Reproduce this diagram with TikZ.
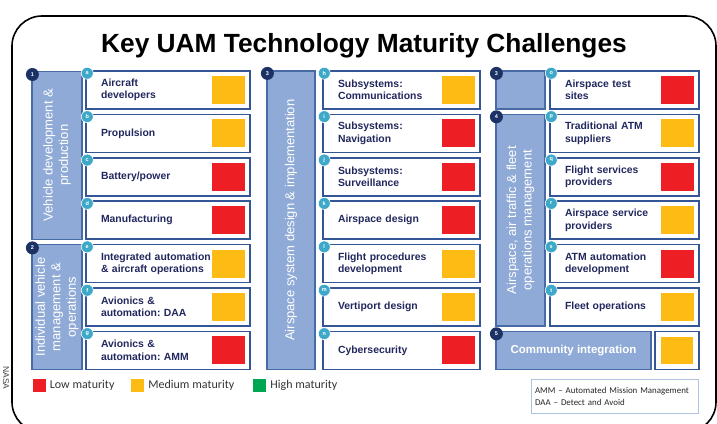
\documentclass[tikz,border=0pt]{standalone}
\usepackage{fontspec}
\setmainfont{Liberation Sans}
\newfontfamily\notefont{Carlito}
\usetikzlibrary{positioning}

\definecolor{navytext}{RGB}{34,40,94}
\definecolor{boxline}{RGB}{52,86,150}
\definecolor{barfill}{RGB}{143,170,214}
\definecolor{barline}{RGB}{72,106,165}
\definecolor{numblue}{RGB}{28,50,100}
\definecolor{letterteal}{RGB}{62,168,200}
\definecolor{lowred}{RGB}{237,30,36}
\definecolor{medamber}{RGB}{253,187,20}
\definecolor{highgreen}{RGB}{0,166,81}
\definecolor{notebox}{RGB}{175,195,225}

\begin{document}
\frenchspacing
\begin{tikzpicture}[
      x=1pt, y=-1pt,
      node distance=3.9pt,
      item/.style={rectangle,draw=boxline,line width=1.5pt,fill=white,minimum height=38pt,inner xsep=15pt,inner ysep=0pt,align=left,text=navytext,font=\fontsize{10.4}{12.5}\selectfont\bfseries},
      itemA/.style={item,text width=134pt},
      itemB/.style={item,text width=127pt},
      itemC/.style={item,text width=119pt},
      bar/.style={rectangle,draw=barline,line width=1.2pt,fill=barfill,inner sep=1pt,align=center,text=white,font=\fontsize{13}{15.5}\selectfont},
      level/.style={rectangle,minimum width=33pt,minimum height=28pt,inner sep=0pt},
      numtag/.style={circle,fill=numblue,minimum size=13pt,inner sep=0pt,text=white,font=\fontsize{5.5}{6}\selectfont\bfseries},
      lettertag/.style={circle,fill=letterteal,draw=white,line width=0.6pt,minimum size=12pt,inner sep=0pt,text=white,font=\fontsize{5.5}{6}\selectfont\bfseries},
      key/.style={rectangle,minimum size=13pt,inner sep=0pt},
      keytext/.style={inner sep=0pt,text=black!80,font=\notefont\fontsize{12}{14}\selectfont}
    ]
    \useasboundingbox (0,0) rectangle (717,423);
    \clip (0,0) rectangle (717,423);

    % Frame and title
    \draw[line width=1.6pt,rounded corners=30pt] (12,16) rectangle (716,432);
    \node[anchor=base,font=\fontsize{26.3}{30}\selectfont\bfseries] (title) at (364,52) {Key UAM Technology Maturity Challenges};
    \node[rotate=-90,text=black!75,font=\fontsize{8.5}{10}\selectfont] (credit) at (6,378) {NASA};

    % First column
    \node[itemA] (a) at (168,90) {Aircraft\\developers};
    \node[itemA,below=of a] (b) {Propulsion};
    \node[itemA,below=of b] (c) {Battery/power};
    \node[itemA,below=of c] (d) {Manufacturing};
    \node[itemA,below=of d] (e) {Integrated automation\\\& aircraft operations};
    \node[itemA,below=of e] (f) {Avionics \&\\automation: DAA};
    \node[itemA,below=of f] (g) {Avionics \&\\automation: AMM};

    \node[bar,rotate=90,minimum width=168pt,minimum height=50pt] (vehicle) at (57,155.1) {Vehicle development \&\\production};
    \node[bar,rotate=90,minimum width=125pt,minimum height=50pt] (vehicleops) at (57,307) {Individual vehicle\\management \&\\operations};

    % Second column
    \node[itemB] (h) at (401.5,90) {Subsystems:\\Communications};
    \node[itemB,below=of h] (i) {Subsystems:\\Navigation};
    \node[itemB,below=of i] (j) {Subsystems:\\Surveillance};
    \node[itemB,below=of j] (k) {Airspace design};
    \node[itemB,below=of k] (l) {Flight procedures\\development};
    \node[itemB,below=of l] (m) {Vertiport design};
    \node[itemB,below=of m] (n) {Cybersecurity};

    \node[bar,rotate=90,minimum width=298.4pt,minimum height=48pt] (airspace) at (291,220.2) {Airspace system design \& implementation};

    % Third column
    \node[itemC] (o) at (624.5,90) {Airspace test\\sites};
    \node[itemC,below=of o] (p) {Traditional ATM\\suppliers};
    \node[itemC,below=of p] (q) {Flight services\\providers};
    \node[itemC,below=of q] (r) {Airspace service\\providers};
    \node[itemC,below=of r] (s) {ATM automation\\development};
    \node[itemC,below=of s] (t) {Fleet operations};

    \node[bar,minimum width=49pt,minimum height=38pt] (airspacetop) at (520.5,90) {};
    \node[bar,rotate=90,minimum width=211.6pt,minimum height=49pt] (atm) at (520.5,220.2) {Airspace, air traffic \& fleet\\operations management};
    \node[bar,minimum width=155pt,minimum height=38pt,font=\fontsize{11.5}{13}\selectfont\bfseries] (community) at (573.5,350.4) {Community integration};
    \node[item,minimum width=44pt,inner xsep=0pt] (communitybox) at (677,350.4) {};
    \node[level,fill=medamber,minimum width=32pt,minimum height=27pt] (community-lv) at (communitybox) {};

    % Maturity squares
    \foreach \n/\lv in {a/medamber,b/medamber,c/lowred,d/lowred,e/medamber,f/medamber,g/lowred,
                        h/medamber,i/lowred,j/lowred,k/lowred,l/medamber,m/medamber,n/lowred,
                        o/lowred,p/medamber,q/lowred,r/medamber,s/lowred,t/medamber}
      \node[level,fill=\lv,left=5.5pt of \n.east] (\n-lv) {};

    % Tags (rotated bars have their top-left corner at north east)
    \foreach \n in {a,...,t}
      \node[lettertag] at ([shift={(2pt,-3pt)}]\n.north west) {\n};
    \node[numtag] at ([shift={(1pt,-4pt)}]vehicle.north east) {1};
    \node[numtag] at ([shift={(1pt,-4pt)}]vehicleops.north east) {2};
    \node[numtag] at ([shift={(1pt,-3pt)}]airspace.north east) {3};
    \node[numtag] at ([shift={(1pt,-3pt)}]airspacetop.north west) {3};
    \node[numtag] at ([shift={(1pt,-3pt)}]atm.north east) {4};
    \node[numtag] at ([shift={(1pt,-3pt)}]community.north west) {5};

    % Legend
    \node[key,fill=lowred] (low) at (39,385.5) {};
    \node[keytext,right=4pt of low] (lowtext) {Low maturity};
    \node[key,fill=medamber] (med) at (137.5,385.5) {};
    \node[keytext,right=4pt of med] (medtext) {Medium maturity};
    \node[key,fill=highgreen] (high) at (259.5,385.5) {};
    \node[keytext,right=4pt of high] (hightext) {High maturity};

    \node[draw=notebox,line width=1pt,align=left,inner xsep=4pt,text width=159pt,minimum height=34pt,text=black!85,font=\notefont\fontsize{8.9}{12}\selectfont] (notes) at (614.5,396) {AMM – Automated Mission Management\\DAA – Detect and Avoid};

  \end{tikzpicture}
\end{document}
